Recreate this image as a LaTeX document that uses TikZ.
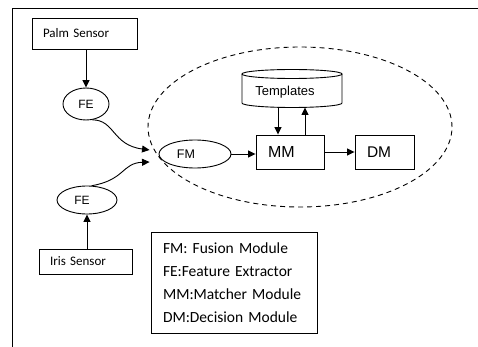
\documentclass[tikz,border=0pt]{standalone}
\usepackage{fontspec}
\setmainfont{Carlito}
\newfontfamily\arialf{Liberation Sans}
\usetikzlibrary{arrows.meta,shapes.geometric,calc}
\tikzset{
  ln/.style={line width=0.9pt},
  arr/.style={ln,-{Triangle[length=7.5pt,width=7pt]}},
  boxn/.style={draw,ln,rectangle,inner sep=0pt,inner xsep=11pt,align=left},
  ell/.style={draw,ln,ellipse,inner sep=0pt},
}
\begin{document}
\begin{tikzpicture}[x=1pt,y=-1pt]
\useasboundingbox (0,0) rectangle (478,347);
% frame
\coordinate (ftr) at (478,8.5);
\coordinate (fbl) at (12.5,347);
\draw[line width=1.7pt] (ftr) -| (fbl);

% dashed zone
\node[draw,ln,dashed,dash pattern=on 5pt off 4pt,ellipse,inner sep=0pt,minimum width=304,minimum height=160] (zone) at (300,127) {};

% sensors
\node[boxn,minimum width=105,minimum height=31,text width=83,font=\fontsize{13}{15}\selectfont] (palm) at (84.5,33.5) {Palm Sensor};
\node[boxn,minimum width=93,minimum height=25,text width=71,font=\fontsize{13}{15}\selectfont] (iris) at (85.5,261.5) {Iris Sensor};

% feature extractors
\node[ell,minimum width=46,minimum height=32,font=\arialf\fontsize{12}{14}\selectfont] (fe1) at (86,104) {FE};
\node[ell,minimum width=60,minimum height=28,font=\arialf\fontsize{12}{14}\selectfont] (fe2) at (87,200) {FE\rule{10pt}{0pt}};

% fusion
\node[ell,minimum width=72,minimum height=28,font=\arialf\fontsize{12.5}{14}\selectfont] (fm) at (195,154) {FM\rule{18pt}{0pt}};

% matcher, decision
\node[boxn,minimum width=68,minimum height=34,text width=44,inner xsep=12pt,font=\arialf\fontsize{16}{18}\selectfont] (mm) at (290,152) {MM};
\node[boxn,minimum width=59,minimum height=34,text width=35,inner xsep=12pt,font=\arialf\fontsize{15.5}{18}\selectfont] (dm) at (384.5,152) {DM};

% templates cylinder
\draw[ln,fill=white] (242,74) -- (242,103) arc[start angle=180,end angle=360,x radius=50,y radius=-4.5] -- (342,74);
\draw[ln] (292,74) ellipse[x radius=50,y radius=4.5];
\node[inner sep=0pt,minimum width=100,minimum height=37] (templ) at (292,88.5) {};
\node[inner sep=0pt,font=\arialf\fontsize{13}{15}\selectfont] (templtext) at (285,92) {Templates};

% legend
\node[boxn,minimum width=166,minimum height=101,text width=142,inner xsep=12pt,font=\fontsize{15.5}{23}\selectfont] (legend) at (234,282.5) {FM: Fusion Module\\FE:Feature Extractor\\MM:Matcher Module\\DM:Decision Module};

% connectors
\draw[arr] (palm.south -| fe1.north) -- (fe1.north);
\draw[arr] (iris.north -| fe2.south) -- (fe2.south);
\coordinate (in1) at ($(fm.west)+(-9,-4)$);
\coordinate (in2) at ($(fm.west)+(-9,8)$);
\draw[arr] (fe1.-68) .. controls (115,120) and (112,145) .. (in1);
\draw[arr] (fe2.72) .. controls (125,180) and (122,163) .. (in2);
\draw[arr] (fm.east) -- (fm.east -| mm.west);
\draw[arr] (mm.east) -- (dm.west);
\coordinate (tdown) at (278,107);
\coordinate (tup) at (305,107.5);
\draw[arr] (tdown) -- (tdown |- mm.north);
\draw[arr] (tup |- mm.north) -- (tup);
\end{tikzpicture}
\end{document}
